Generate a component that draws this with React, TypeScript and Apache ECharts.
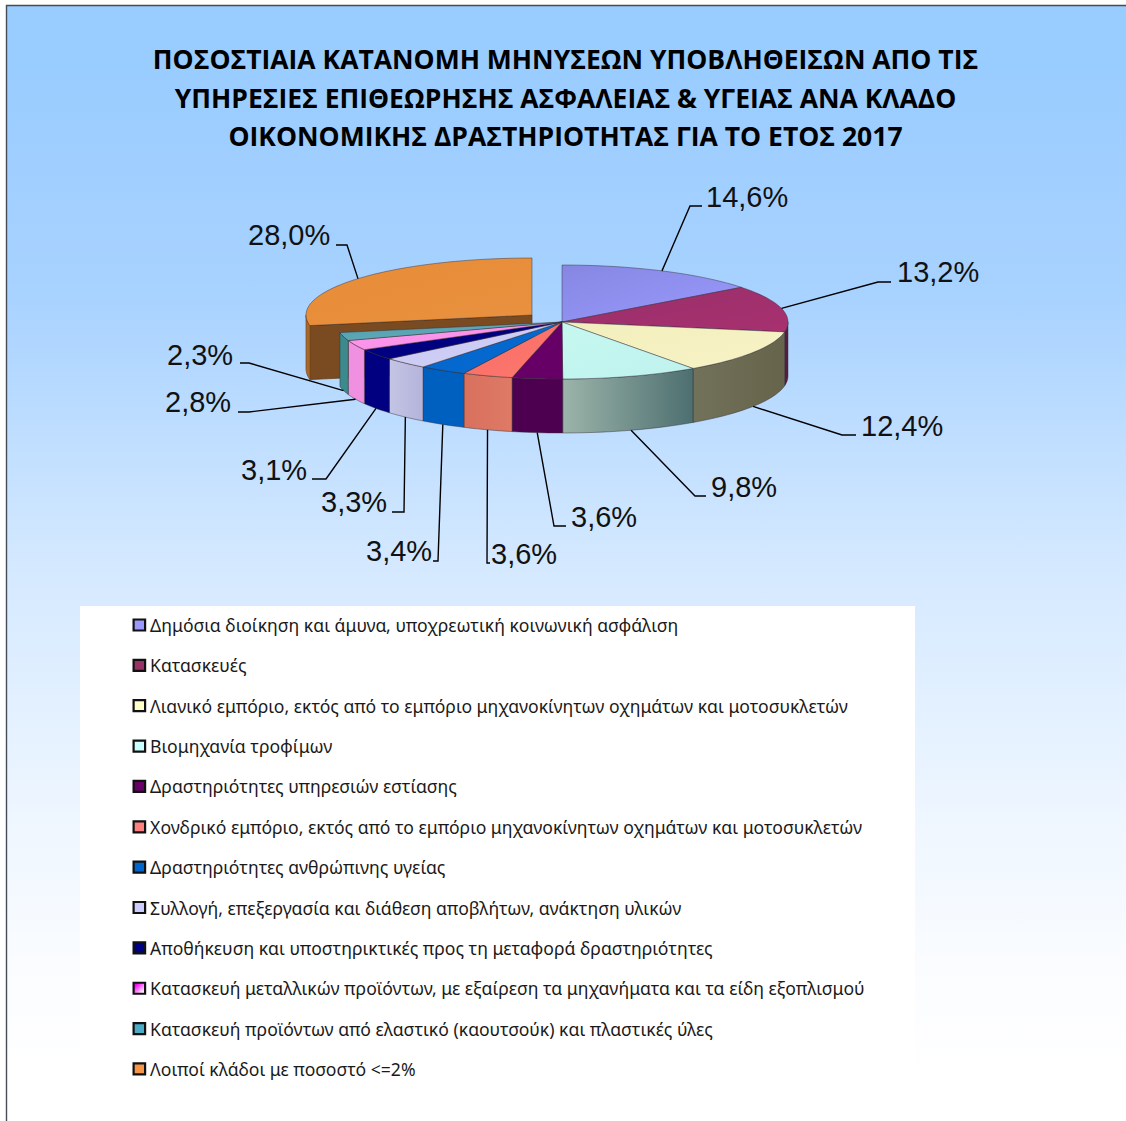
import React, { useEffect, useRef } from "react";
import * as echarts from "echarts";

const titleText = [
  "ΠΟΣΟΣΤΙΑΙΑ ΚΑΤΑΝΟΜΗ ΜΗΝΥΣΕΩΝ ΥΠΟΒΛΗΘΕΙΣΩΝ ΑΠΟ ΤΙΣ",
  "ΥΠΗΡΕΣΙΕΣ ΕΠΙΘΕΩΡΗΣΗΣ ΑΣΦΑΛΕΙΑΣ & ΥΓΕΙΑΣ ΑΝΑ ΚΛΑΔΟ",
  "ΟΙΚΟΝΟΜΙΚΗΣ ΔΡΑΣΤΗΡΙΟΤΗΤΑΣ ΓΙΑ ΤΟ ΕΤΟΣ 2017",
];
const categories = [
  "Δημόσια διοίκηση και άμυνα, υποχρεωτική κοινωνική ασφάλιση",
  "Κατασκευές",
  "Λιανικό εμπόριο, εκτός από το εμπόριο μηχανοκίνητων οχημάτων και μοτοσυκλετών",
  "Βιομηχανία τροφίμων",
  "Δραστηριότητες υπηρεσιών εστίασης",
  "Χονδρικό εμπόριο, εκτός από το εμπόριο μηχανοκίνητων οχημάτων και μοτοσυκλετών",
  "Δραστηριότητες ανθρώπινης υγείας",
  "Συλλογή, επεξεργασία και διάθεση αποβλήτων, ανάκτηση υλικών",
  "Αποθήκευση και υποστηρικτικές προς τη μεταφορά δραστηριότητες",
  "Κατασκευή μεταλλικών προϊόντων, με εξαίρεση τα μηχανήματα και τα είδη εξοπλισμού",
  "Κατασκευή προϊόντων από ελαστικό (καουτσούκ) και πλαστικές ύλες",
  "Λοιποί κλάδοι με ποσοστό <=2%",
];
const values = [14.6, 13.2, 12.4, 9.8, 3.6, 3.6, 3.4, 3.3, 3.1, 2.8, 2.3, 28.0];

const legendColors: any[] = [
  "#9999FF", "#993366", "#FFFFCC", "#CCFFFF", "#660066", "#FF8080", "#0066CC", "#CCCCFF", "#000080",
  new echarts.graphic.LinearGradient(0, 0, 1, 1, [
    { offset: 0.2, color: "#FF00FF" },
    { offset: 0.85, color: "#FFFFFF" },
  ]),
  "#4BACC6", "#F79646",
];
const topColors = [
  ["#8686e2", "#9a9aff"], ["#98306a", "#a83070"], ["#f2eebc", "#f7f3c6"], ["#c6f8f0", "#bff2ee"],
  ["#660066", "#660066"], ["#f56a62", "#ff7a70"], ["#0066cc", "#0a6ad0"], ["#c8c8f0", "#d0d0f8"],
  ["#000080", "#000080"], ["#ff99ee", "#f58fe6"], ["#4f9fae", "#6aaebc"], ["#e88c38", "#e8913f"],
];
const wallColors = [
  ["#6a6ab0", "#6a6ab0"], ["#5e1c40", "#5a1a3a"], ["#72715a", "#66644a"], ["#9cb4aa", "#4d6f70"],
  ["#4e0050", "#4e0050"], ["#d8705c", "#de7a66"], ["#0060c0", "#0060c0"], ["#c4c4e4", "#b4b4dc"],
  ["#000080", "#000080"], ["#f090e0", "#f090e0"], ["#3d8a8c", "#3d8a8c"], ["#b06e28", "#7a4a20"],
];
// leader line: elbow x, elbow y, end x; label: left x, middle y
const labelLayout = [
  [690, 206, 702, 706, 197],
  [878, 282, 891, 897, 272],
  [842, 435, 856, 861, 426],
  [695, 496, 706, 711, 487],
  [554, 526, 566, 571, 517],
  [487, 563, 490, 491, 554],
  [438, 561, 433, 366, 551],
  [404, 512, 392, 321, 502],
  [326, 479, 312, 241, 470],
  [249, 412, 238, 165, 402],
  [249, 363, 240, 167, 355],
  [347, 245, 336, 248, 235],
];

const CX = 562, CY = 322, RX = 226, RY = 57, DEPTH = 54;
const EXPLODE_X = -30, EXPLODE_Y = -7;
const ORANGE = values.length - 1;
const total = values.reduce((a, b) => a + b, 0);
const starts = values.map((_, i) => values.slice(0, i).reduce((a, b) => a + b, 0));

const pt = (cx: number, cy: number, deg: number): number[] => {
  const r = (deg * Math.PI) / 180;
  return [cx + RX * Math.sin(r), cy - RY * Math.cos(r)];
};
const arc = (cx: number, cy: number, a: number, b: number): number[][] => {
  const n = Math.max(2, Math.ceil(Math.abs(b - a) / 2));
  const out: number[][] = [];
  for (let k = 0; k <= n; k++) out.push(pt(cx, cy, a + ((b - a) * k) / n));
  return out;
};
const horiz = (c: string[]) =>
  new echarts.graphic.LinearGradient(0, 0, 1, 0, [
    { offset: 0, color: c[0] },
    { offset: 1, color: c[1] },
  ]);
const EDGE = "rgba(50,45,50,0.65)";

const renderSlice = (i: number) => (_params: any, api: any) => {
  const v = api.value(0) as number;
  const a = (starts[i] / total) * 360;
  const b = ((starts[i] + v) / total) * 360;
  const off = i === ORANGE;
  const cx = CX + (off ? EXPLODE_X : 0);
  const cy = CY + (off ? EXPLODE_Y : 0);
  const children: any[] = [];
  const wa = Math.max(a, 90), wb = Math.min(b, 270);
  if (off) {
    const e = pt(cx, cy, a);
    children.push({
      type: "polygon",
      shape: { points: [[cx, cy], e, [e[0], e[1] + DEPTH], [cx, cy + DEPTH]] },
      style: { fill: "#7a4a20", stroke: "#5e3610", lineWidth: 0.7 },
    });
    const top = arc(cx, cy, a, 270);
    const bot = arc(cx, cy + DEPTH, 270, a);
    children.push({
      type: "polygon",
      shape: { points: [...top, ...bot] },
      style: { fill: "#a8682a", stroke: "#7a4a20", lineWidth: 0.7 },
    });
  } else if (wb > wa) {
    const top = arc(cx, cy, wa, wb);
    const bot = arc(cx, cy + DEPTH, wb, wa);
    children.push({
      type: "polygon",
      shape: { points: [...top, ...bot] },
      style: { fill: horiz(wallColors[i]), stroke: EDGE, lineWidth: 0.7 },
    });
  }
  children.push({
    type: "polygon",
    shape: { points: [[cx, cy], ...arc(cx, cy, a, b)] },
    style: {
      fill: new echarts.graphic.LinearGradient(0, 0, 1, 1, [
        { offset: 0, color: topColors[i][0] },
        { offset: 1, color: topColors[i][1] },
      ]),
      stroke: EDGE,
      lineWidth: 0.7,
    },
  });
  const mid = (a + b) / 2;
  const s = pt(cx, cy, mid);
  if (mid > 90 && mid < 270) s[1] += DEPTH;
  const [ex, ey, endX, tx, ty] = labelLayout[i];
  children.push({
    type: "polyline",
    shape: { points: [s, [ex, ey], [endX, ey]] },
    style: { fill: "none", stroke: "#000", lineWidth: 1.4 },
  });
  children.push({
    type: "text",
    style: {
      text: v.toFixed(1).replace(".", ",") + "%",
      x: tx,
      y: ty,
      fontFamily: "Liberation Sans",
      fontSize: 29,
      fill: "#111",
      textAlign: "left",
      textVerticalAlign: "middle",
    },
  });
  return { type: "group", children };
};

export default function App() {
  const ref = useRef<HTMLDivElement>(null);
  useEffect(() => {
    document.body.style.margin = "0";
    const chart = echarts.init(ref.current!, undefined, { renderer: "svg" });
    chart.setOption({
      animation: false,
      backgroundColor: "#ffffff",
      title: {
        text: titleText.join("\n"),
        left: 560.5,
        top: 35,
        textAlign: "center",
        textStyle: { fontFamily: "Open Sans", fontWeight: "bold", fontSize: 26.5, lineHeight: 38.5, color: "#000" },
      },
      graphic: [
        {
          type: "rect",
          z: -2,
          shape: { x: 6.5, y: 5.5, width: 1140, height: 1140 },
          style: {
            fill: new echarts.graphic.LinearGradient(0, 0, 0, 1, [
              { offset: 0.05, color: "#99CCFF" },
              { offset: 0.254, color: "#A8D2FF" },
              { offset: 0.483, color: "#D3E8FF" },
              { offset: 0.711, color: "#EEF6FF" },
              { offset: 0.842, color: "#FAFCFF" },
              { offset: 0.942, color: "#FFFFFF" },
            ]),
            stroke: "#444c55",
            lineWidth: 1.4,
          },
        },
        { type: "rect", z: -1, shape: { x: 80, y: 606, width: 835, height: 484 }, style: { fill: "#ffffff" } },
      ],
      legend: {
        orient: "vertical",
        left: 132.5,
        top: 616,
        padding: 0,
        itemWidth: 11.5,
        itemHeight: 11,
        itemGap: 22.36,
        selectedMode: false,
        icon: "rect",
        textStyle: { fontFamily: "Noto Sans", fontSize: 17.6, color: "#1a1a1a" },
        data: categories.map((name, i) => ({
          name,
          itemStyle: { color: legendColors[i], borderColor: "#111", borderWidth: 2.2 },
        })),
      },
      series: categories.map((name, i) => ({
        type: "custom",
        name,
        coordinateSystem: "none",
        z: i === ORANGE ? 1 : 2,
        silent: true,
        data: [[values[i]]],
        renderItem: renderSlice(i),
      })),
    });
    return () => chart.dispose();
  }, []);
  return <div ref={ref} style={{ position: "absolute", left: 0, top: 0, width: 1126, height: 1121 }} />;
}
